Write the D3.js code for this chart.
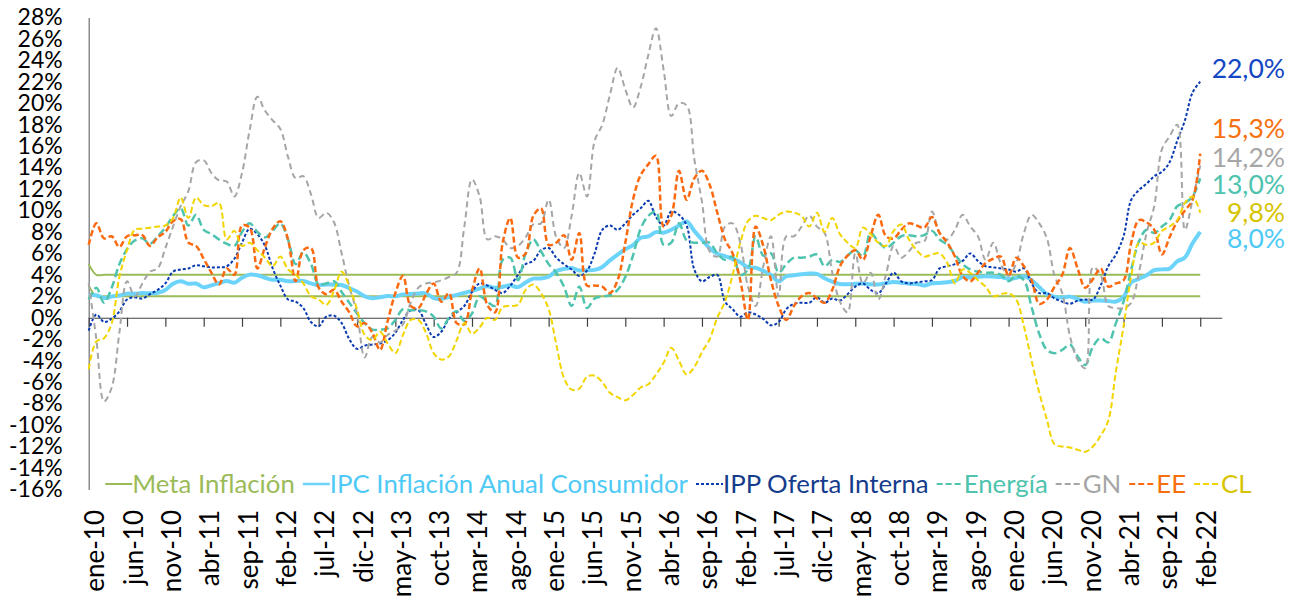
<!DOCTYPE html>
<html>
<head>
<meta charset="utf-8">
<script src="https://cdn.jsdelivr.net/npm/d3@7"></script>
<style>
  body { margin: 0; background: #fff; }
  svg { font-family: Lato, sans-serif; }
</style>
</head>
<body>
<div id="chart"></div>
<script>
// categorias: meses ene-10 ... feb-22
const mesesAbrev = ["ene", "feb", "mar", "abr", "may", "jun", "jul", "ago", "sep", "oct", "nov", "dic"];
const meses = [];
for (let i = 0; i < 146; i++) {
    meses.push(mesesAbrev[i % 12] + "-" + (10 + Math.floor(i / 12)));
}

const tickLabels = ["ene-10", "jun-10", "nov-10", "abr-11", "sep-11", "feb-12", "jul-12", "dic-12", "may-13", "oct-13",
    "mar-14", "ago-14", "ene-15", "jun-15", "nov-15", "abr-16", "sep-16", "feb-17", "jul-17", "dic-17",
    "may-18", "oct-18", "mar-19", "ago-19", "ene-20", "jun-20", "nov-20", "abr-21", "sep-21", "feb-22"];

const yTicks = [-16, -14, -12, -10, -8, -6, -4, -2, 0, 2, 4, 6, 8, 10, 12, 14, 16, 18, 20, 22, 24, 26, 28];

// Meta de inflacion (limite superior e inferior)
const metaSup = [
    5, 4, 4, 4, 4, 4, 4, 4, 4, 4, 4, 4,
    4, 4, 4, 4, 4, 4, 4, 4, 4, 4, 4, 4,
    4, 4, 4, 4, 4, 4, 4, 4, 4, 4, 4, 4,
    4, 4, 4, 4, 4, 4, 4, 4, 4, 4, 4, 4,
    4, 4, 4, 4, 4, 4, 4, 4, 4, 4, 4, 4,
    4, 4, 4, 4, 4, 4, 4, 4, 4, 4, 4, 4,
    4, 4, 4, 4, 4, 4, 4, 4, 4, 4, 4, 4,
    4, 4, 4, 4, 4, 4, 4, 4, 4, 4, 4, 4,
    4, 4, 4, 4, 4, 4, 4, 4, 4, 4, 4, 4,
    4, 4, 4, 4, 4, 4, 4, 4, 4, 4, 4, 4,
    4, 4, 4, 4, 4, 4, 4, 4, 4, 4, 4, 4,
    4, 4, 4, 4, 4, 4, 4, 4, 4, 4, 4, 4,
    4, 4];
const metaInf = [
    3, 2, 2, 2, 2, 2, 2, 2, 2, 2, 2, 2,
    2, 2, 2, 2, 2, 2, 2, 2, 2, 2, 2, 2,
    2, 2, 2, 2, 2, 2, 2, 2, 2, 2, 2, 2,
    2, 2, 2, 2, 2, 2, 2, 2, 2, 2, 2, 2,
    2, 2, 2, 2, 2, 2, 2, 2, 2, 2, 2, 2,
    2, 2, 2, 2, 2, 2, 2, 2, 2, 2, 2, 2,
    2, 2, 2, 2, 2, 2, 2, 2, 2, 2, 2, 2,
    2, 2, 2, 2, 2, 2, 2, 2, 2, 2, 2, 2,
    2, 2, 2, 2, 2, 2, 2, 2, 2, 2, 2, 2,
    2, 2, 2, 2, 2, 2, 2, 2, 2, 2, 2, 2,
    2, 2, 2, 2, 2, 2, 2, 2, 2, 2, 2, 2,
    2, 2, 2, 2, 2, 2, 2, 2, 2, 2, 2, 2,
    2, 2];

const ipc = [
    2.10, 2.09, 1.84, 1.98, 2.07, 2.25, 2.24, 2.31, 2.28, 2.33, 2.59, 3.17,
    3.40, 3.17, 3.19, 2.84, 3.02, 3.23, 3.42, 3.27, 3.73, 4.02, 3.96, 3.73,
    3.54, 3.55, 3.40, 3.43, 3.44, 3.20, 3.03, 3.11, 3.08, 3.06, 2.77, 2.44,
    2.00, 1.83, 1.91, 2.02, 2.00, 2.16, 2.22, 2.27, 2.27, 1.84, 1.76, 1.94,
    2.13, 2.32, 2.51, 2.72, 2.93, 2.79, 2.89, 3.02, 2.86, 3.29, 3.65, 3.66,
    3.82, 4.36, 4.56, 4.64, 4.41, 4.42, 4.46, 4.74, 5.35, 5.89, 6.39, 6.77,
    7.45, 7.59, 7.98, 7.93, 8.20, 8.60, 8.97, 8.10, 7.27, 6.48, 5.96, 5.75,
    5.47, 5.18, 4.69, 4.66, 4.37, 3.99, 3.40, 3.87, 3.97, 4.05, 4.12, 4.09,
    3.68, 3.37, 3.14, 3.13, 3.16, 3.20, 3.12, 3.10, 3.23, 3.33, 3.27, 3.18,
    3.15, 3.01, 3.21, 3.25, 3.31, 3.43, 3.79, 3.75, 3.82, 3.86, 3.84, 3.80,
    3.62, 3.72, 3.86, 3.51, 2.85, 2.19, 1.97, 1.88, 1.97, 1.75, 1.49, 1.61,
    1.60, 1.56, 1.51, 1.95, 3.30, 3.63, 3.97, 4.44, 4.51, 4.58, 5.26, 5.62,
    6.94, 8.01];

const ipp = [
    -1.2, 0.3, -0.4, -0.1, 0.6, 1.7, 1.9, 1.8, 2.2, 2.6, 3.2, 4.3,
    4.5, 4.6, 4.9, 4.8, 4.7, 4.7, 4.8, 5.5, 7.0, 8.3, 7.8, 6.7,
    4.6, 3.0, 1.7, 1.5, 0.9, -0.4, -0.8, 0.1, 0.2, -0.5, -2.0, -2.9,
    -2.6, -2.5, -2.4, -2.1, -1.4, -0.2, 0.7, 0.7, -0.6, -1.8, -1.3, -0.1,
    0.5, 1.1, 2.4, 3.2, 3.0, 2.6, 2.3, 3.0, 4.0, 5.0, 5.3, 6.3,
    6.5, 5.6, 5.0, 4.5, 3.9, 4.4, 6.0, 8.2, 8.6, 8.2, 8.8, 9.6,
    10.2, 10.9, 9.4, 8.6, 9.9, 9.6, 8.6, 4.5, 3.4, 3.8, 4.0, 1.5,
    0.8, 0.1, 0.5, 0.3, -0.1, -0.7, -0.4, 0.8, 1.3, 1.4, 1.4, 1.9,
    1.4, 1.8, 1.6, 2.2, 2.9, 3.2, 2.6, 2.3, 3.2, 4.2, 3.4, 3.2,
    3.3, 3.4, 3.5, 4.6, 4.8, 5.0, 5.3, 6.0, 5.3, 4.8, 4.7, 4.6,
    4.5, 4.3, 4.6, 3.2, 2.3, 2.3, 1.8, 1.5, 1.3, 1.6, 1.7, 1.7,
    3.0, 4.8, 5.9, 7.6, 11.0, 11.9, 12.5, 13.2, 13.6, 14.5, 16.5, 18.4,
    21.0, 22.0];

const energia = [
    1.7, 2.8, 1.4, 2.8, 5.0, 6.4, 7.2, 7.4, 6.9, 7.6, 8.4, 9.5,
    10.2, 8.6, 9.6, 8.2, 7.8, 7.3, 6.9, 6.7, 8.0, 8.8, 8.0, 7.5,
    8.1, 8.8, 7.3, 5.0, 6.1, 5.0, 3.1, 3.2, 3.4, 2.4, 1.4, 0.4,
    -0.5, -1.1, -1.1, -1.0, -0.2, 0.8, 0.7, 0.7, 0.6, 0.1, -1.0, 0.0,
    0.6, -0.3, 0.4, 2.0, 1.5, 1.1, 5.4, 5.6, 3.5, 6.0, 7.3, 6.2,
    5.0, 4.2, 2.9, 1.1, 2.9, 0.9, 1.8, 2.0, 2.1, 2.6, 3.8, 5.8,
    8.3, 9.5, 9.9, 6.8, 7.0, 8.8, 7.2, 7.0, 7.0, 7.0, 6.0, 5.4,
    5.7, 4.0, 4.5, 7.6, 5.8, 6.0, 4.2, 5.0, 5.6, 5.6, 5.7, 5.9,
    4.8, 5.4, 5.2, 5.8, 6.3, 5.7, 7.9, 7.1, 6.5, 7.0, 7.6, 7.7,
    7.6, 7.7, 8.1, 7.3, 6.8, 5.9, 5.0, 4.5, 4.3, 4.2, 4.2, 4.0,
    3.4, 3.9, 3.5, 1.0, -1.5, -3.0, -3.3, -3.0, -2.5, -3.6, -4.4, -2.7,
    -1.9, -2.3, -0.5, 1.5, 4.5, 7.1, 8.2, 7.9, 8.5, 9.1, 10.4, 10.7,
    11.3, 13.0];

const gn = [
    3.2, -2.0, -7.8, -6.5, -1.4, 3.4, 2.0, 3.2, 4.3, 4.6, 6.5, 8.5,
    10.4, 11.8, 14.5, 14.7, 13.5, 12.8, 12.7, 11.3, 13.5, 17.5, 20.6, 19.3,
    18.4, 17.6, 15.0, 13.0, 13.2, 11.5, 9.3, 9.8, 8.9, 6.0, 2.9, 0.4,
    -3.7, -1.8, -2.3, -1.6, -1.2, -0.6, 1.4, 2.8, 3.2, 3.3, 3.5, 3.8,
    4.2, 8.5, 12.9, 11.3, 7.3, 7.6, 7.3, 6.5, 6.7, 7.5, 8.7, 8.8,
    11.0, 7.5, 6.5, 9.5, 13.5, 11.3, 16.5, 18.0, 20.8, 23.3, 21.3, 19.6,
    21.5, 24.5, 27.0, 23.1, 18.8, 20.0, 19.8, 14.8, 10.8, 6.2, 5.7, 8.5,
    8.8, 7.0, 2.9, 1.1, 4.8, 7.6, 2.0, 7.6, 7.6, 8.5, 9.5, 8.5,
    7.9, 4.2, 1.5, 0.5, 6.0, 3.2, 4.2, 1.7, 4.0, 6.7, 5.6, 6.2,
    7.0, 7.1, 9.9, 7.9, 7.3, 8.2, 9.6, 8.5, 7.6, 5.4, 7.0, 5.0,
    3.9, 5.1, 7.9, 9.6, 8.8, 7.4, 3.9, 2.3, -1.7, -3.9, -4.7, 4.7,
    4.0, 1.1, 0.9, 0.9, 1.4, 4.2, 7.9, 10.4, 15.7, 16.9, 18.0, 8.2,
    11.0, 14.2];

const ee = [
    6.8, 8.8, 7.4, 7.6, 6.6, 7.6, 7.7, 7.7, 6.7, 7.5, 8.0, 9.0,
    9.2, 7.0, 6.7, 5.5, 4.2, 3.1, 4.6, 4.0, 8.6, 8.4, 4.6, 6.6,
    8.3, 9.0, 7.3, 3.4, 6.3, 6.5, 2.8, 2.2, 2.6, 1.5, 0.5, -0.8,
    -0.5, -1.4, -3.0, -0.3, 2.3, 3.9, 1.1, 0.9, 2.2, 3.2, 1.5, 2.3,
    -0.5, -0.6, 2.5, 4.6, 1.2, 0.5, 7.0, 9.3, 5.6, 6.0, 9.5, 10.2,
    6.8, 7.0, 7.7, 5.4, 7.9, 3.0, 3.0, 2.9, 2.3, 3.5, 7.0, 11.0,
    13.3, 14.3, 15.1, 8.5, 9.5, 13.7, 11.0, 13.0, 13.7, 12.4, 9.8, 7.3,
    6.0, 3.5, -0.2, 8.5, 6.7, 3.5, 1.1, -0.2, 1.1, 2.0, 2.3, 1.8,
    1.4, 2.6, 4.8, 5.8, 6.3, 5.4, 7.6, 9.6, 7.6, 7.4, 8.2, 8.8,
    8.6, 8.4, 9.4, 7.9, 7.0, 5.7, 3.9, 3.4, 4.2, 5.1, 5.5, 5.7,
    3.9, 5.6, 4.8, 3.5, 1.3, 1.7, 2.9, 4.0, 6.5, 4.6, 2.8, 3.6,
    4.6, 2.9, 3.2, 3.5, 7.0, 9.1, 8.9, 8.2, 5.9, 7.5, 9.0, 10.0,
    11.0, 15.3];

const cl = [
    -4.8, -2.2, -1.9, -0.5, 3.8, 6.3, 8.2, 8.3, 8.4, 8.5, 8.6, 9.3,
    11.2, 9.3, 11.2, 10.5, 10.4, 10.7, 7.3, 8.1, 6.7, 7.0, 6.3, 5.6,
    4.8, 5.7, 4.5, 4.0, 3.2, 2.0, 1.7, 1.2, 2.5, 4.3, 2.9, 0.8,
    -1.6, -2.1, -1.3, -2.4, -3.3, -1.6, -0.2, -0.2, -1.4, -3.3, -3.9, -3.6,
    -2.1, -0.5, -1.5, -0.9, 0.0, -0.2, 1.0, 1.1, 1.2, 2.6, 3.1, 2.3,
    0.8, -2.5, -5.6, -6.7, -6.6, -5.5, -5.4, -6.0, -7.0, -7.4, -7.7, -7.2,
    -6.5, -6.2, -5.3, -4.2, -2.8, -4.0, -5.3, -4.6, -3.2, -2.0, 0.0, 1.5,
    4.0, 7.0, 9.0, 9.5, 9.3, 9.1, 9.6, 9.9, 9.8, 9.5, 8.5, 9.8,
    8.0, 9.3, 7.8, 7.0, 6.5, 8.4, 7.8, 7.0, 6.7, 8.1, 8.7, 7.3,
    6.3, 5.7, 5.9, 6.0, 5.1, 3.2, 4.5, 4.2, 3.5, 2.9, 2.0, 2.2,
    2.3, 1.7, -0.8, -4.0, -7.0, -9.5, -11.8, -12.0, -12.1, -12.3, -12.5, -12.0,
    -11.0, -9.6, -5.0, -0.8, 3.9, 7.0, 6.8, 7.0, 8.1, 8.5, 9.1, 10.7,
    11.3, 9.8];

// estilos de cada serie
const series = [
    { datos: metaSup, color: "#9BBB59", ancho: 2, dash: null },
    { datos: metaInf, color: "#9BBB59", ancho: 2, dash: null },
    { datos: ipc, color: "#6CD4FA", ancho: 4, dash: null, etiqueta: "#4FC9F5", ajuste: 7 },
    { datos: ipp, color: "#0A3BB0", ancho: 2, dash: "3,2", etiqueta: "#1347C4", ajuste: -13 },
    { datos: energia, color: "#4EC3AE", ancho: 2.5, dash: "8,4", etiqueta: "#4EC3AE", ajuste: 6 },
    { datos: gn, color: "#A6A6A6", ancho: 2, dash: "6,4", etiqueta: "#A6A6A6", ajuste: -8 },
    { datos: ee, color: "#FB6A10", ancho: 2.5, dash: "6,3", etiqueta: "#F7700F", ajuste: -25 },
    { datos: cl, color: "#F2D500", ancho: 2, dash: "6,3", etiqueta: "#D6C400", ajuste: 0 }
];

const leyenda = [
    { nombre: "Meta Inflación", color: "#9BBB59", texto: "#9BBB59", ancho: 2, dash: null },
    { nombre: "IPC Inflación Anual Consumidor", color: "#6CD4FA", texto: "#4FC9F5", ancho: 2.5, dash: null },
    { nombre: "IPP Oferta Interna", color: "#0A3BB0", texto: "#153C8C", ancho: 2, dash: "3,2" },
    { nombre: "Energía", color: "#4EC3AE", texto: "#4EC3AE", ancho: 2, dash: "6,3" },
    { nombre: "GN", color: "#A6A6A6", texto: "#A6A6A6", ancho: 2, dash: "6,3" },
    { nombre: "EE", color: "#FB6A10", texto: "#F7700F", ancho: 2, dash: "6,3" },
    { nombre: "CL", color: "#F2D500", texto: "#D6C400", ancho: 2, dash: "6,3" }
];

const w = 1300;
const h = 601;

const svg = d3.select("#chart")
    .append("svg")
    .attr("width", w)
    .attr("height", h);

// Escalas
const xScale = d3.scaleLinear()
    .domain([0, 147.8])
    .range([88.7, 1221.7]);

const yScale = d3.scaleLinear()
    .domain([-16, 28])
    .range([489.4, 17.4]);

const tickIdx = tickLabels.map(l => meses.indexOf(l));

// eje Y
svg.append("g")
    .attr("transform", "translate(88.7,0)")
    .call(d3.axisLeft(yScale).tickValues(yTicks).tickFormat(d => d + "%").tickSize(0).tickSizeOuter(0).tickPadding(26))
    .call(g => g.select(".domain").attr("stroke", "#6e6e6e").attr("stroke-width", 1.2))
    .call(g => g.selectAll("text").attr("font-family", "Lato, sans-serif").attr("font-size", "23px").attr("fill", "#000"));

// eje X en 0%
svg.append("g")
    .attr("transform", "translate(0," + yScale(0) + ")")
    .call(d3.axisBottom(xScale).tickValues(tickIdx).tickFormat("").tickSize(9).tickSizeOuter(0))
    .call(g => g.selectAll("path, line").attr("stroke", "#404040").attr("stroke-width", 1.2));

// etiquetas del eje X abajo
svg.append("g")
    .attr("transform", "translate(0,510)")
    .call(d3.axisBottom(xScale).tickValues(tickIdx).tickFormat(i => meses[i]).tickSize(0).tickSizeOuter(0))
    .call(g => g.select(".domain").remove())
    .call(g => g.selectAll("text")
        .attr("transform", "rotate(-90)")
        .attr("x", 0)
        .attr("y", 15)
        .attr("dy", null)
        .attr("text-anchor", "end")
        .attr("font-family", "Lato, sans-serif")
        .attr("font-size", "26px")
        .attr("fill", "#000"));

// lineas
const line = d3.line()
    .x((d, i) => xScale(i))
    .y(d => yScale(d))
    .curve(d3.curveCatmullRom.alpha(0.5));

series.forEach(s => {
    svg.append("path")
        .datum(s.datos)
        .attr("d", line)
        .attr("fill", "none")
        .attr("stroke", s.color)
        .attr("stroke-width", s.ancho)
        .attr("stroke-dasharray", s.dash)
        .attr("stroke-linejoin", "round");
});

// etiquetas del ultimo valor
const fmt = v => d3.format(".1f")(v).replace(".", ",") + "%";
series.filter(s => s.etiqueta).forEach(s => {
    const ultimo = s.datos[s.datos.length - 1];
    svg.append("text")
        .attr("x", 1285)
        .attr("y", yScale(ultimo) + s.ajuste)
        .attr("dy", "0.35em")
        .attr("text-anchor", "end")
        .attr("font-size", "26.5px")
        .attr("fill", s.etiqueta)
        .text(fmt(ultimo));
});

// leyenda
const leg = svg.append("g").attr("class", "legend");
let lx = 0;
leyenda.forEach(item => {
    leg.append("line")
        .attr("x1", lx)
        .attr("x2", lx + 27)
        .attr("y1", 0)
        .attr("y2", 0)
        .attr("stroke", item.color)
        .attr("stroke-width", item.ancho)
        .attr("stroke-dasharray", item.dash);
    const t = leg.append("text")
        .attr("x", lx + 27)
        .attr("y", 9)
        .attr("font-size", "25.8px")
        .attr("fill", item.texto)
        .text(item.nombre);
    lx += 27 + t.node().getComputedTextLength() + 8;
});
const legW = lx - 8;
leg.attr("transform", "translate(" + (678.4 - legW / 2) + ",484)");
</script>
</body>
</html>
